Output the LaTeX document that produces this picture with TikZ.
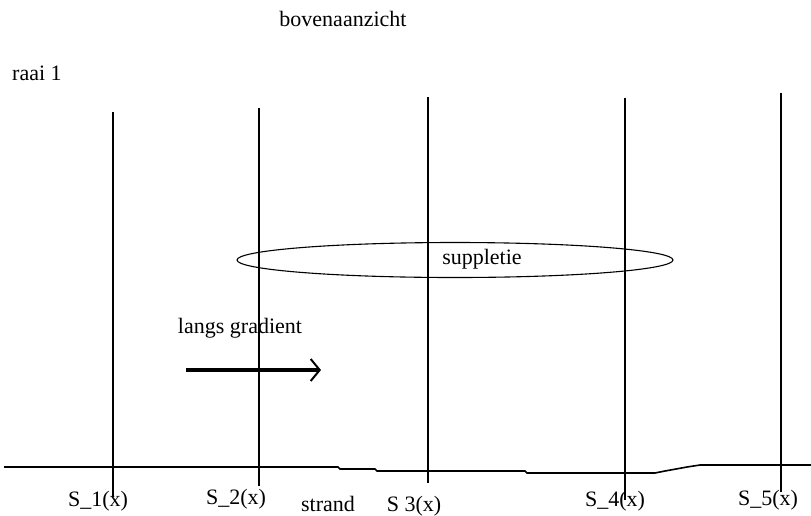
\documentclass[tikz,border=0pt]{standalone}
\usepackage{fontspec}
\setmainfont{Liberation Serif}
\usetikzlibrary{arrows.meta,shapes.geometric}

\begin{document}
\begin{tikzpicture}[x=1pt, y=-1pt, every node/.style={font=\fontsize{22}{26}\selectfont, inner sep=0pt, anchor=base}]
    \useasboundingbox (0,0) rectangle (811,515);

    % raaien
    \foreach \i/\x/\top/\bot in {1/113/112/497, 2/259/108/486, 3/428/97/483, 4/625/98/500, 5/781/93/492} {
        \coordinate (r\i t) at (\x,\top);
        \coordinate (r\i b) at (\x,\bot);
        \draw[line width=1.1pt] (r\i t) -- (r\i b);
    }

    % strandlijn
    \coordinate (sa) at (4,467);
    \coordinate (sb) at (811,465);
    \draw[line width=1.6pt] (sa) -- (338,467) -- (340,469) -- (375,469) -- (377,471) -- (525,471)
        -- (527,473) -- (655,473) -- (665,471) -- (676,469) -- (687,467) -- (700,465) -- (sb);

    \node[anchor=center] (title) at (343,19) {bovenaanzicht};
    \node[anchor=base west] (raai) at (12,80) {raai 1};

    % suppletie
    \node[draw, ellipse, line width=1.1pt, minimum width=436pt, minimum height=35pt, anchor=center] (zone) at (455,260) {};
    \node (supp) at (482,264) {suppletie};

    % gradient
    \node (grad) at (240,333) {langs gradient};
    \coordinate (ga) at (186,370);
    \coordinate (gb) at (321,370);
    \draw[line width=3.5pt, -{Straight Barb[length=9pt, width=22pt, line width=2pt]}] (ga) -- (gb);

    % labels
    \node (s1) at (98,506) {S\_1(x)};
    \node (s2) at (236,504) {S\_2(x)};
    \node (strand) at (328,511) {strand};
    \node (s3) at (414,511) {S 3(x)};
    \node (s4) at (615,506) {S\_4(x)};
    \node (s5) at (768,505) {S\_5(x)};
\end{tikzpicture}
\end{document}
